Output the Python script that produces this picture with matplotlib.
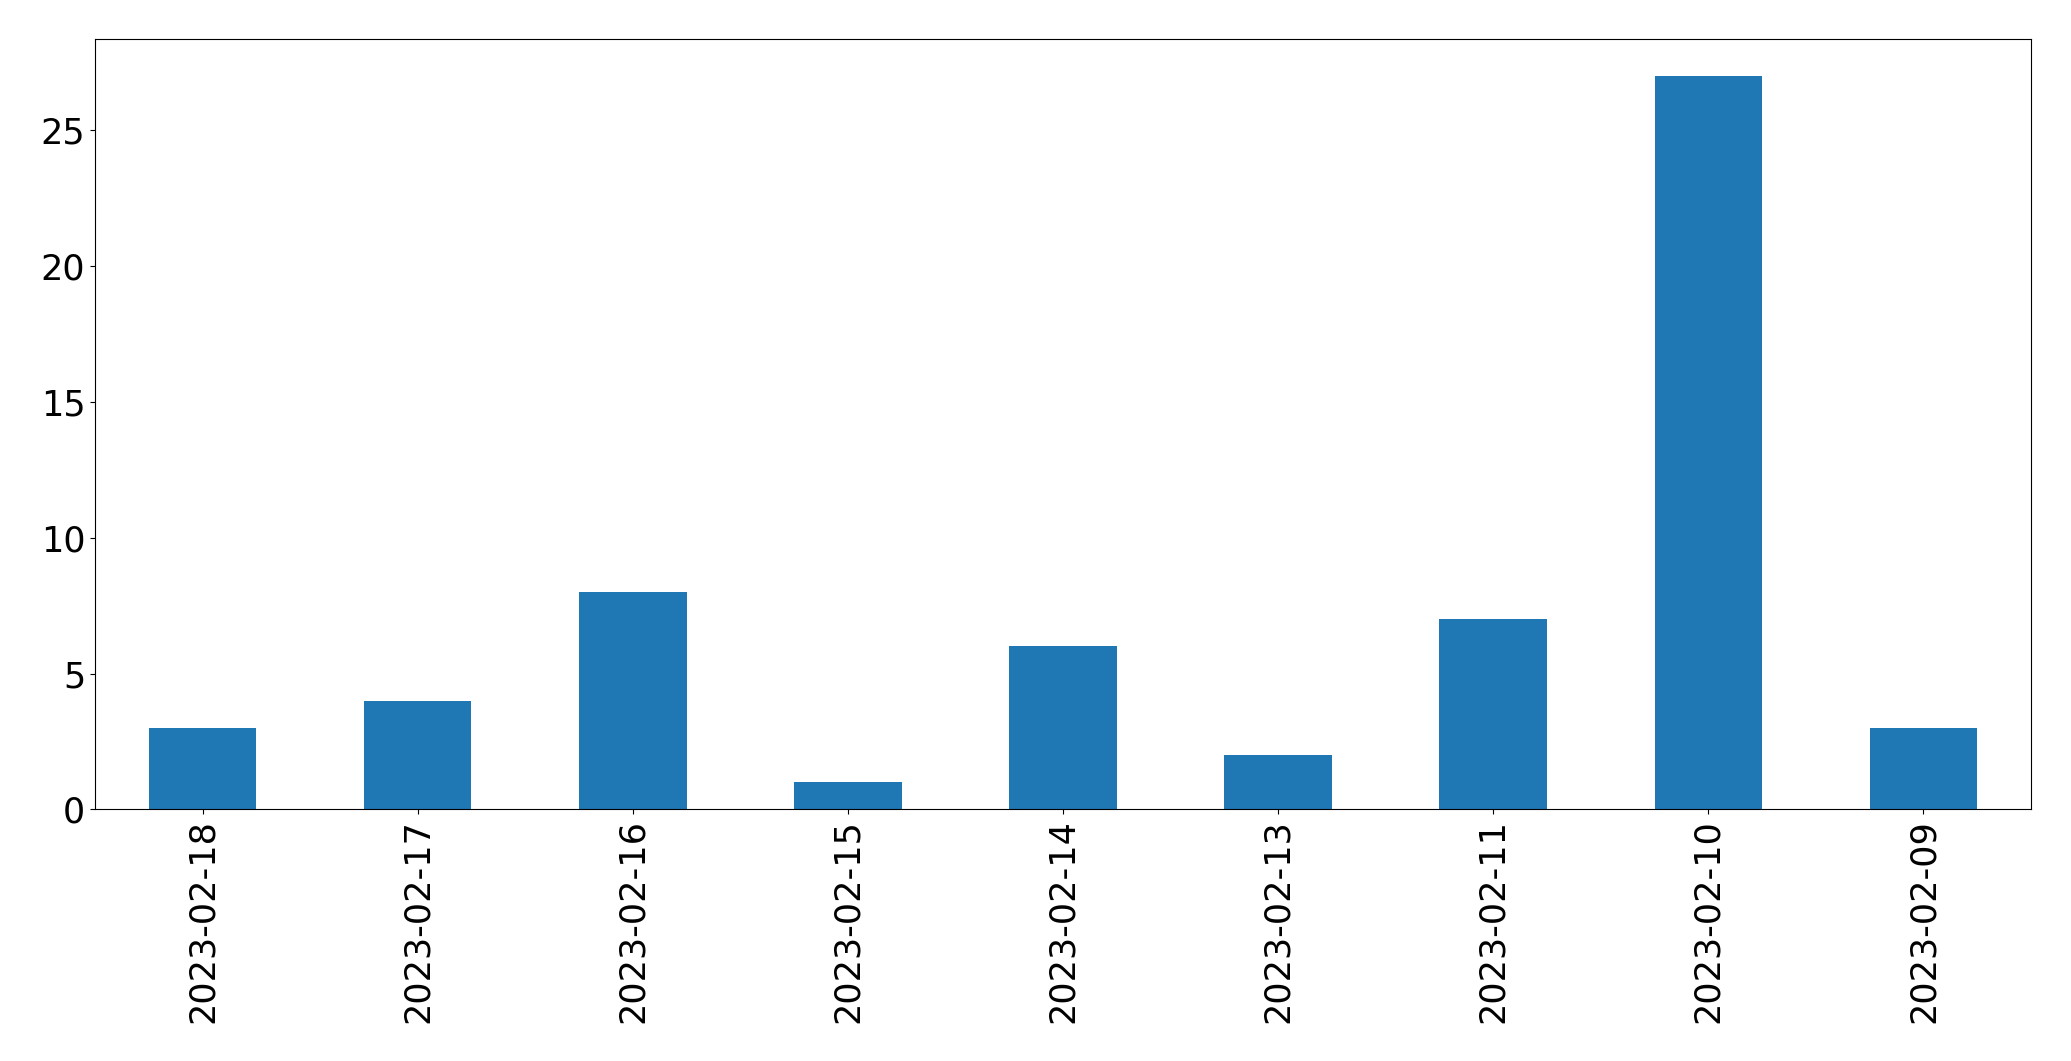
import matplotlib
matplotlib.use("Agg")
import matplotlib.pyplot as plt
import pandas as pd

dates = ["2023-02-18", "2023-02-17", "2023-02-16", "2023-02-15", "2023-02-14",
         "2023-02-13", "2023-02-11", "2023-02-10", "2023-02-09"]
counts = [3, 4, 8, 1, 6, 2, 7, 27, 3]

fig = plt.figure(figsize=(20.71, 10.61), dpi=100)
ax = fig.add_axes([0.0459, 0.2372, 0.9348, 0.7258])
s = pd.Series(counts, index=dates)
s.plot(kind="bar", ax=ax, color="#1f77b4", width=0.5)
ax.tick_params(axis="both", labelsize=25.2)
ax.set_xlabel("")
fig.savefig("out.png", dpi=100)
